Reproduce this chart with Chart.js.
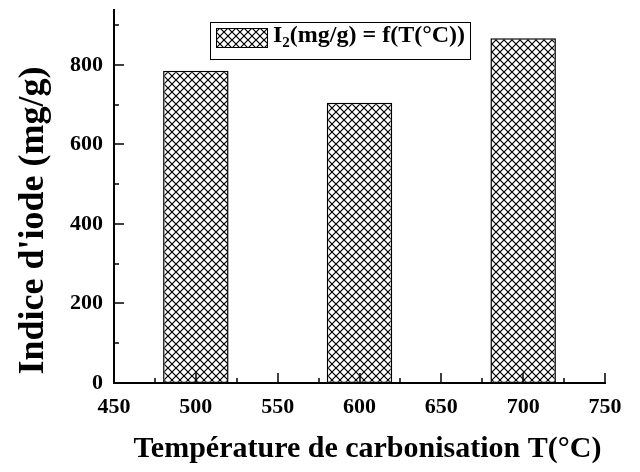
<!DOCTYPE html>
<html>
<head>
<meta charset="utf-8">
<script src="https://cdn.jsdelivr.net/npm/chart.js@4/dist/chart.umd.min.js"></script>
<style>
  html, body { margin: 0; padding: 0; background: #fff; }
  #wrap { width: 640px; height: 472px; }
</style>
</head>
<body>
<div id="wrap"><canvas id="c" width="640" height="472"></canvas></div>
<script>
// Iodine index of the activated carbon vs. carbonisation temperature
const temperatures = [500, 600, 700];
const iodineIndex = [785, 705, 867];
const xTicks = [450, 500, 550, 600, 650, 700, 750];
const xMinor = [475, 525, 575, 625, 675, 725];
const yTicks = [0, 200, 400, 600, 800];
const yMinor = [100, 300, 500, 700, 900];
const legendParts = ['I', '2', '(mg/g) = f(T(°C))'];
const xTitle = 'Température de carbonisation T(°C)';
const yTitle = "Indice d'iode (mg/g)";

const FONT = "'Liberation Serif', 'Times New Roman', serif";

// Cross-hatch fill
function makeHatch() {
  const p = document.createElement('canvas');
  p.width = 8; p.height = 8;
  const g = p.getContext('2d');
  g.fillStyle = '#fff';
  g.fillRect(0, 0, 8, 8);
  g.strokeStyle = '#000';
  g.lineWidth = 1.2;
  g.beginPath();
  g.moveTo(0, 0); g.lineTo(8, 8);
  g.moveTo(0, 8); g.lineTo(8, 0);
  g.stroke();
  return document.getElementById('c').getContext('2d').createPattern(p, 'repeat');
}
const hatch = makeHatch();

// Inward major/minor tick marks
const tickMarks = {
  id: 'tickMarks',
  afterDraw(chart) {
    const { ctx, chartArea: a, scales: { x, y } } = chart;
    ctx.save();
    ctx.strokeStyle = '#000';
    ctx.lineWidth = 1.5;
    ctx.beginPath();
    xTicks.forEach(v => { const px = Math.round(x.getPixelForValue(v)); ctx.moveTo(px, a.bottom); ctx.lineTo(px, a.bottom - 10); });
    xMinor.forEach(v => { const px = Math.round(x.getPixelForValue(v)); ctx.moveTo(px, a.bottom); ctx.lineTo(px, a.bottom - 5); });
    yTicks.forEach(v => { const py = Math.round(y.getPixelForValue(v)); ctx.moveTo(a.left, py); ctx.lineTo(a.left + 10, py); });
    yMinor.forEach(v => { const py = Math.round(y.getPixelForValue(v)); ctx.moveTo(a.left, py); ctx.lineTo(a.left + 5, py); });
    ctx.stroke();
    ctx.restore();
  }
};

// Axis titles
const axisTitles = {
  id: 'axisTitles',
  afterDraw(chart) {
    const { ctx, chartArea: a } = chart;
    ctx.save();
    ctx.fillStyle = '#000';
    ctx.textAlign = 'center';
    ctx.textBaseline = 'alphabetic';
    ctx.font = `bold 30px ${FONT}`;
    ctx.fillText(xTitle, (a.left + a.right) / 2 + 8, a.bottom + 74);
    ctx.font = `bold 36px ${FONT}`;
    ctx.translate(a.left - 71, (a.top + a.bottom) / 2 + 24);
    ctx.rotate(-Math.PI / 2);
    ctx.fillText(yTitle, 0, 0);
    ctx.restore();
  }
};

// Boxed legend with hatched swatch
const boxLegend = {
  id: 'boxLegend',
  afterDraw(chart) {
    const { ctx, chartArea: a } = chart;
    const L = a.left + 96, T = a.top + 12, W = 260, H = 37;
    ctx.save();
    ctx.fillStyle = '#fff';
    ctx.fillRect(L, T, W, H);
    ctx.strokeStyle = '#000';
    ctx.lineWidth = 1;
    ctx.strokeRect(L + 0.5, T + 0.5, W, H);
    ctx.fillStyle = hatch;
    ctx.fillRect(L + 6, T + 6, 51, 19);
    ctx.strokeRect(L + 6.5, T + 6.5, 51, 19);
    ctx.fillStyle = '#000';
    ctx.textBaseline = 'alphabetic';
    ctx.textAlign = 'left';
    let tx = L + 63;
    const base = T + 20;
    ctx.font = `bold 24px ${FONT}`;
    ctx.fillText(legendParts[0], tx, base);
    tx += ctx.measureText(legendParts[0]).width;
    ctx.font = `bold 15px ${FONT}`;
    ctx.fillText(legendParts[1], tx, base + 5);
    tx += ctx.measureText(legendParts[1]).width;
    ctx.font = `bold 24px ${FONT}`;
    ctx.fillText(legendParts[2], tx, base);
    ctx.restore();
  }
};

new Chart(document.getElementById('c'), {
  type: 'bar',
  data: {
    datasets: [{
      label: legendParts.join(''),
      data: temperatures.map((t, i) => ({ x: t, y: iodineIndex[i] })),
      backgroundColor: hatch,
      borderColor: '#000',
      borderWidth: 1.5,
      borderSkipped: false,
      barPercentage: 0.8,
      categoryPercentage: 1
    }]
  },
  options: {
    responsive: false,
    devicePixelRatio: 1,
    animation: false,
    layout: { padding: { left: 0, right: 35, top: 10, bottom: 0 } },
    plugins: { legend: { display: false }, tooltip: { enabled: false } },
    scales: {
      x: {
        type: 'linear',
        min: 450, max: 750,
        offset: false,
        grid: { display: false },
        border: { display: true, color: '#000', width: 2 },
        afterBuildTicks: s => { s.ticks = xTicks.map(v => ({ value: v })); },
        afterFit: s => { s.height = 89; },
        ticks: { color: '#000', padding: 3, maxRotation: 0, font: { family: FONT, size: 22, weight: 'bold' } }
      },
      y: {
        min: 0, max: 938,
        grid: { display: false },
        border: { display: true, color: '#000', width: 2 },
        afterBuildTicks: s => { s.ticks = yTicks.map(v => ({ value: v })); },
        afterFit: s => { s.width = 114; s.paddingTop = 0; s.paddingBottom = 0; },
        ticks: { color: '#000', padding: 3, font: { family: FONT, size: 22, weight: 'bold' } }
      }
    }
  },
  plugins: [tickMarks, axisTitles, boxLegend]
});
</script>
</body>
</html>
